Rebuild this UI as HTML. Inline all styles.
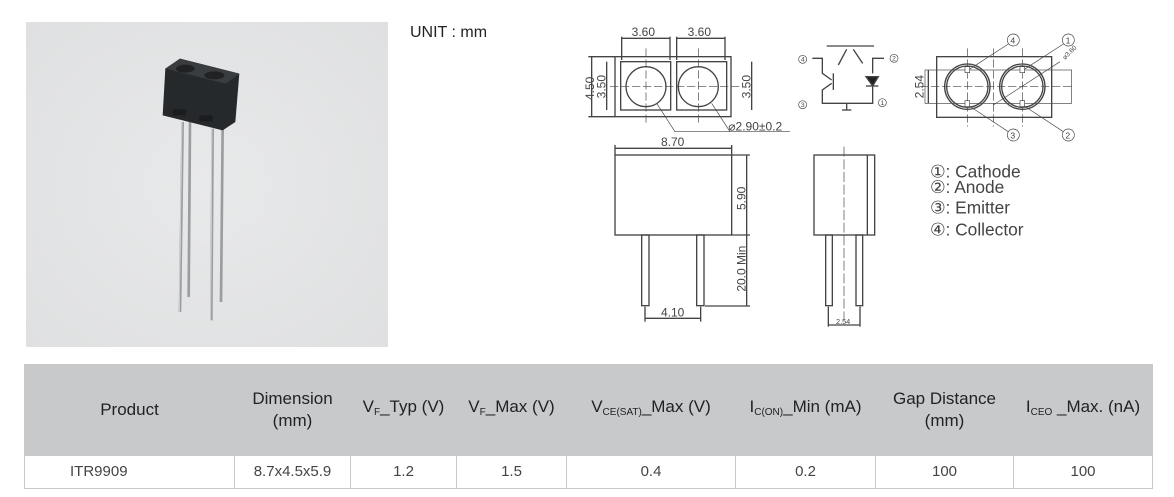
<!DOCTYPE html>
<html><head><meta charset="utf-8"><style>
body{margin:0;width:1174px;height:497px;background:#fff;position:relative;overflow:hidden;font-family:"Liberation Sans",sans-serif;}
.abs{position:absolute}
table{position:absolute;left:24px;top:364px;border-collapse:collapse;font-size:17px;color:#333}
td{border:1px solid #c8c8c8;text-align:center;padding:0;line-height:22px}
tr.h td{background:#c8c9cb;height:90px;color:#222}
tr.d td{height:32px;color:#444;font-size:15px}
sub{font-size:10px;vertical-align:-3px}
</style></head><body>
<svg class="abs" style="left:26px;top:22px" width="362" height="325" viewBox="0 0 1086 975">
<defs><radialGradient id="bg" cx="50%" cy="50%" r="70%"><stop offset="0" stop-color="#e8e9ea"/><stop offset="1" stop-color="#dfe0e1"/></radialGradient></defs>
<rect width="1086" height="975" fill="url(#bg)"/>
<g stroke="#9a9ea2" stroke-width="8" fill="none">
<line x1="470" y1="300" x2="462" y2="870"/><line x1="492" y1="300" x2="488" y2="825"/>
<line x1="560" y1="320" x2="556" y2="895"/><line x1="590" y1="320" x2="585" y2="840"/></g>
<g stroke="#e0e2e4" stroke-width="2" fill="none">
<line x1="468" y1="300" x2="460" y2="870"/><line x1="558" y1="320" x2="554" y2="895"/></g>
<polygon points="418,140 462,110 640,155 628,300 590,325 410,280" fill="#26292b"/>
<polygon points="418,140 462,110 640,155 600,185" fill="#3a3d40"/>
<ellipse cx="478" cy="140" rx="28" ry="12" fill="#202224"/>
<ellipse cx="565" cy="160" rx="30" ry="12" fill="#202224"/>
<rect x="440" y="262" width="40" height="18" fill="#1a1c1d"/><rect x="520" y="280" width="40" height="18" fill="#1a1c1d"/>
</svg>
<div class="abs" style="left:410px;top:24px;font-size:16px;color:#222">UNIT : mm</div>
<svg class="abs" style="left:580px;top:20px" width="500" height="320" viewBox="0 0 1500 960" font-family="Liberation Sans,sans-serif" fill="none" stroke="#444" stroke-width="4">
<rect x="105" y="110" width="348" height="180"/>
<rect x="122" y="125" width="150" height="145"/><rect x="290" y="125" width="150" height="145"/>
<circle cx="198" cy="200" r="60"/><circle cx="355" cy="200" r="60"/>
<g stroke-dasharray="25,8" stroke-width="2"><line x1="198" y1="85" x2="198" y2="310"/><line x1="355" y1="85" x2="355" y2="310"/><line x1="90" y1="200" x2="480" y2="200"/></g>
<line x1="125" y1="55" x2="270" y2="55"/><line x1="290" y1="55" x2="435" y2="55"/>
<line x1="125" y1="50" x2="125" y2="120"/><line x1="270" y1="50" x2="270" y2="120"/><line x1="290" y1="50" x2="290" y2="120"/><line x1="435" y1="50" x2="435" y2="120"/>
<line x1="35" y1="110" x2="35" y2="290"/><line x1="80" y1="125" x2="80" y2="270"/><line x1="515" y1="125" x2="515" y2="270"/>
<line x1="25" y1="110" x2="105" y2="110"/><line x1="25" y1="290" x2="105" y2="290"/>
<line x1="230" y1="250" x2="285" y2="335" stroke-width="2"/><line x1="285" y1="335" x2="630" y2="335" stroke-width="2"/><line x1="395" y1="250" x2="450" y2="335" stroke-width="2"/>
<g fill="#444" stroke="none" font-size="36"><text x="155" y="48">3.60</text><text x="323" y="48">3.60</text><text x="445" y="332">⌀2.90±0.2</text>
<text transform="translate(42,240) rotate(-90)">4.50</text><text transform="translate(77,235) rotate(-90)">3.50</text><text transform="translate(512,235) rotate(-90)">3.50</text></g>
<rect x="105" y="405" width="350" height="240"/>
<line x1="105" y1="385" x2="455" y2="385"/><line x1="105" y1="375" x2="105" y2="405"/><line x1="455" y1="375" x2="455" y2="405"/>
<line x1="500" y1="405" x2="500" y2="858"/><line x1="455" y1="405" x2="510" y2="405"/><line x1="455" y1="645" x2="510" y2="645"/><line x1="375" y1="858" x2="510" y2="858"/>
<rect x="185" y="645" width="22" height="212"/><rect x="350" y="645" width="22" height="212"/>
<line x1="195" y1="895" x2="362" y2="895"/><line x1="195" y1="860" x2="195" y2="905"/><line x1="362" y1="860" x2="362" y2="905"/>
<g fill="#444" stroke="none" font-size="36"><text x="243" y="378">8.70</text><text x="243" y="890">4.10</text>
<text transform="translate(497,570) rotate(-90)">5.90</text><text transform="translate(497,815) rotate(-90)">20.0 Min</text></g>
<rect x="702" y="405" width="182" height="240"/><line x1="862" y1="405" x2="862" y2="645"/>
<line x1="792" y1="380" x2="792" y2="900" stroke-dasharray="30,8" stroke-width="2"/>
<rect x="737" y="645" width="20" height="212"/><rect x="828" y="645" width="20" height="212"/>
<line x1="745" y1="915" x2="840" y2="915"/><line x1="745" y1="860" x2="745" y2="920"/><line x1="840" y1="860" x2="840" y2="920"/>
<text x="768" y="912" fill="#444" stroke="none" font-size="22">2.54</text>
<line x1="740" y1="78" x2="882" y2="78"/><line x1="775" y1="135" x2="800" y2="88"/><line x1="820" y1="88" x2="848" y2="130"/>
<polyline points="697,115 727,115 727,160 755,180"/><line x1="760" y1="160" x2="760" y2="210"/><polyline points="755,190 727,210 727,250 878,250 878,200"/>
<polyline points="912,115 878,115 878,160"/><polygon points="858,170 895,170 878,198" fill="#222"/><line x1="858" y1="198" x2="895" y2="198"/>
<line x1="800" y1="250" x2="800" y2="270"/><line x1="786" y1="270" x2="814" y2="270"/>
<g stroke-width="2"><circle cx="668" cy="118" r="12"/><circle cx="942" cy="115" r="12"/><circle cx="668" cy="254" r="12"/><circle cx="907" cy="248" r="12"/></g>
<g fill="#444" stroke="none" font-size="20" text-anchor="middle"><text x="668" y="125">4</text><text x="942" y="122">2</text><text x="668" y="261">3</text><text x="907" y="255">1</text></g>
<rect x="1070" y="110" width="345" height="182"/><rect x="1035" y="150" width="440" height="100" stroke-width="2"/>
<circle cx="1162" cy="200" r="68"/><circle cx="1162" cy="200" r="62"/><circle cx="1327" cy="200" r="68"/><circle cx="1327" cy="200" r="62"/>
<g stroke-width="2" stroke-dasharray="25,8"><line x1="1162" y1="85" x2="1162" y2="320"/><line x1="1327" y1="85" x2="1327" y2="320"/><line x1="1240" y1="85" x2="1240" y2="320"/><line x1="1020" y1="200" x2="1475" y2="200"/></g>
<g fill="#fff" stroke-width="2"><rect x="1155" y="140" width="14" height="18"/><rect x="1155" y="242" width="14" height="18"/><rect x="1320" y="140" width="14" height="18"/><rect x="1320" y="242" width="14" height="18"/></g>
<g stroke-width="2"><line x1="1168" y1="148" x2="1285" y2="72"/><line x1="1333" y1="148" x2="1450" y2="72"/><line x1="1168" y1="258" x2="1285" y2="335"/><line x1="1333" y1="258" x2="1450" y2="335"/><line x1="1240" y1="255" x2="1440" y2="125"/>
<circle cx="1300" cy="60" r="18"/><circle cx="1465" cy="60" r="18"/><circle cx="1300" cy="345" r="18"/><circle cx="1465" cy="345" r="18"/></g>
<line x1="1045" y1="150" x2="1045" y2="250"/>
<g fill="#444" stroke="none"><text x="1291" y="70" font-size="26">4</text><text x="1457" y="70" font-size="26">1</text><text x="1291" y="355" font-size="26">3</text><text x="1456" y="355" font-size="26">2</text>
<text transform="translate(1030,235) rotate(-90)" font-size="36">2.54</text><text transform="translate(1455,120) rotate(-45)" font-size="20">⌀3.60</text>
<g font-size="52"><text x="1050" y="472">①: Cathode</text><text x="1050" y="519">②: Anode</text><text x="1050" y="580">③: Emitter</text><text x="1050" y="647">④: Collector</text></g></g>
</svg>
<table>
<tr class="h"><td style="width:209px">Product</td><td style="width:115px">Dimension<br>(mm)</td><td style="width:105px">V<sub>F</sub>_Typ (V)</td><td style="width:109px">V<sub>F</sub>_Max (V)</td><td style="width:168px">V<sub>CE(SAT)</sub>_Max (V)</td><td style="width:139px">I<sub>C(ON)</sub>_Min (mA)</td><td style="width:137px">Gap Distance<br>(mm)</td><td style="width:138px">I<sub>CEO</sub> _Max. (nA)</td></tr>
<tr class="d"><td style="text-align:left;padding-left:45px;width:164px">ITR9909</td><td>8.7x4.5x5.9</td><td>1.2</td><td>1.5</td><td>0.4</td><td>0.2</td><td>100</td><td>100</td></tr>
</table>
</body></html>
